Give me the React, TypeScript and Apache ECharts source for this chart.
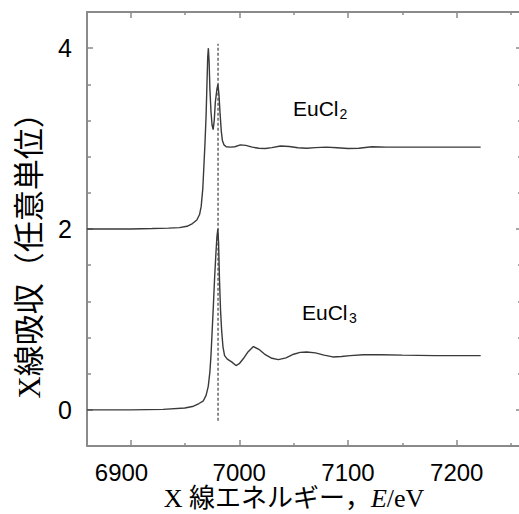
import React, { useEffect, useRef } from "react";
import * as echarts from "echarts";

// ---- data ----
const eucl2E = [6860, 6900, 6920, 6935, 6945, 6952, 6957, 6961, 6963.5, 6965, 6966.5, 6967.5, 6968.5, 6969.5, 6970.3, 6971, 6971.6, 6972.3, 6973, 6974, 6975, 6976, 6977, 6978, 6979.5, 6980.4, 6981.4, 6982.4, 6983.5, 6984.5, 6986, 6988, 6992, 6996, 7001, 7006, 7012, 7018, 7024, 7030, 7038, 7046, 7054, 7062, 7070, 7080, 7090, 7100, 7110, 7122, 7135, 7150, 7180, 7222];
const eucl2V = [2.0, 2.0, 2.005, 2.01, 2.015, 2.03, 2.06, 2.1, 2.16, 2.25, 2.45, 2.7, 2.95, 3.25, 3.6, 3.9, 4.0, 3.85, 3.55, 3.3, 3.15, 3.1, 3.2, 3.4, 3.55, 3.6, 3.48, 3.27, 3.08, 2.98, 2.93, 2.91, 2.905, 2.91, 2.93, 2.925, 2.905, 2.893, 2.89, 2.9, 2.918, 2.912, 2.898, 2.893, 2.9, 2.905, 2.898, 2.89, 2.893, 2.91, 2.905, 2.905, 2.905, 2.905];

const eucl3E = [6860, 6900, 6930, 6950, 6958, 6963, 6967, 6969.5, 6971.5, 6973, 6974, 6975, 6976.2, 6977.3, 6978.5, 6979.5, 6980.3, 6981, 6981.8, 6982.8, 6983.8, 6985, 6986.5, 6989, 6993, 6997, 7000, 7004, 7008, 7013, 7018, 7024, 7030, 7036, 7043, 7050, 7056, 7062, 7070, 7078, 7086, 7094, 7102, 7114, 7130, 7150, 7180, 7222];
const eucl3V = [0.0, 0.0, 0.005, 0.02, 0.04, 0.07, 0.1, 0.16, 0.26, 0.42, 0.6, 0.85, 1.15, 1.45, 1.72, 1.92, 2.0, 1.85, 1.45, 1.1, 0.88, 0.7, 0.6, 0.56, 0.53, 0.49, 0.51, 0.57, 0.64, 0.7, 0.67, 0.61, 0.57, 0.555, 0.575, 0.615, 0.635, 0.64, 0.63, 0.605, 0.585, 0.59, 0.6, 0.61, 0.61, 0.605, 0.6, 0.6];

const refLineE = [6980.5, 6980.5];
const refLineV = [-0.12, 4.05];

const xTickLabels = [6900, 7000, 7100, 7200];
const yTickLabels = [0, 2, 4];

const seriesNames = ["EuCl", "EuCl"];
const seriesSubs = ["2", "3"];
const xTitle = ["X 線エネルギー，", "E", "/eV"];
const yTitle = "X線吸収（任意単位）";

// ---- layout ----
const W = 519;
const H = 514;
const GL = 87;
const GT = 12;
const GR = -3;
const GB = 68;
const X_MIN = 6860;
const X_MAX = 7260;
const Y_MIN = -0.4;
const Y_MAX = 4.4;
const plotW = W - GL - GR;
const plotH = H - GT - GB;
const px = (e: number) => GL + ((e - X_MIN) / (X_MAX - X_MIN)) * plotW;
const py = (v: number) => GT + ((Y_MAX - v) / (Y_MAX - Y_MIN)) * plotH;

const zip = (a: number[], b: number[]) => a.map((x, i) => [x, b[i]]);

const FRAME = "#8a8a8a";
const CURVE = "#3a3a3a";

export default function App() {
  const ref = useRef<HTMLDivElement>(null);
  useEffect(() => {
    if (!ref.current) return;
    const chart = echarts.init(ref.current, null, { renderer: "svg" });
    const hiddenAxis = (gridIndex: number) => ({
      gridIndex,
      type: "value",
      show: false,
      min: 0,
      max: 1,
    });
    const frameAxis = (pos: string, min: number, max: number) => ({
      gridIndex: 0,
      type: "value",
      position: pos,
      min,
      max,
      axisLine: { show: true, onZero: false, lineStyle: { color: FRAME, width: 2 } },
      axisTick: { show: false },
      axisLabel: { show: false },
      splitLine: { show: false },
    });
    const tickStyle = { color: FRAME, width: 1.5 };
    const xTickAxis = (pos: string, labels: boolean) => ({
      gridIndex: 1,
      type: "value",
      position: pos,
      min: 6900,
      max: 7300,
      interval: 100,
      axisLine: { show: false, onZero: false },
      axisTick: { show: true, inside: true, length: 6, lineStyle: tickStyle },
      minorTick: { show: true, splitNumber: 2, length: 3, lineStyle: tickStyle },
      splitLine: { show: false },
      minorSplitLine: { show: false },
      axisLabel: {
        show: labels,
        margin: 14,
        color: "#000",
        fontFamily: "Liberation Sans",
        fontSize: 24,
        formatter: (v: number) => {
          if (!xTickLabels.includes(v)) return "";
          return v === xTickLabels[0] ? "{s|" + v + "}" : String(v);
        },
        rich: {
          s: { padding: [0, 18, 0, 0], fontFamily: "Liberation Sans", fontSize: 24, color: "#000" },
        },
      },
    });
    const yTickAxis = (pos: string, labels: boolean) => ({
      gridIndex: 2,
      type: "value",
      position: pos,
      min: 0,
      max: 4,
      interval: 2,
      axisLine: { show: false, onZero: false },
      axisTick: { show: true, inside: true, length: 6, lineStyle: tickStyle },
      minorTick: { show: true, splitNumber: 5, length: 4, lineStyle: tickStyle },
      splitLine: { show: false },
      minorSplitLine: { show: false },
      axisLabel: {
        show: labels,
        margin: 15,
        color: "#000",
        fontFamily: "Liberation Sans",
        fontSize: 25,
        formatter: (v: number) => (yTickLabels.includes(v) ? String(v) : ""),
      },
    });

    const option: any = {
      animation: false,
      backgroundColor: "#fff",
      grid: [
        { left: GL, top: GT, right: GR, bottom: GB, outerBoundsMode: "none" },
        { left: px(6900), top: GT, right: W - px(7300), bottom: GB, outerBoundsMode: "none" },
        { left: GL, top: py(4), right: GR, bottom: H - py(0), outerBoundsMode: "none" },
      ],
      xAxis: [
        frameAxis("bottom", X_MIN, X_MAX),
        frameAxis("top", X_MIN, X_MAX),
        xTickAxis("bottom", true),
        xTickAxis("top", false),
        hiddenAxis(2),
      ],
      yAxis: [
        frameAxis("left", Y_MIN, Y_MAX),
        frameAxis("right", Y_MIN, Y_MAX),
        hiddenAxis(1),
        yTickAxis("left", true),
        yTickAxis("right", false),
      ],
      series: [
        {
          name: "EuCl2",
          type: "line",
          xAxisIndex: 0,
          yAxisIndex: 0,
          data: zip(eucl2E, eucl2V),
          showSymbol: false,
          symbol: "none",
          lineStyle: { color: CURVE, width: 1.4 },
          z: 3,
        },
        {
          name: "EuCl3",
          type: "line",
          xAxisIndex: 0,
          yAxisIndex: 0,
          data: zip(eucl3E, eucl3V),
          showSymbol: false,
          symbol: "none",
          lineStyle: { color: CURVE, width: 1.4 },
          z: 3,
        },
        {
          name: "ref",
          type: "line",
          xAxisIndex: 0,
          yAxisIndex: 0,
          data: zip(refLineE, refLineV),
          showSymbol: false,
          symbol: "none",
          lineStyle: { color: "#666", width: 1.5, type: [3, 2] },
          z: 2,
        },
      ],
      graphic: [
        {
          type: "text",
          x: 293,
          y: 108,
          style: { text: seriesNames[0], font: "21px 'Liberation Sans'", fill: "#000", align: "left", verticalAlign: "middle" },
        },
        {
          type: "text",
          x: 339.5,
          y: 114,
          style: { text: seriesSubs[0], font: "14px 'Liberation Sans'", fill: "#000", align: "left", verticalAlign: "middle" },
        },
        {
          type: "text",
          x: 302,
          y: 312,
          style: { text: seriesNames[1], font: "21px 'Liberation Sans'", fill: "#000", align: "left", verticalAlign: "middle" },
        },
        {
          type: "text",
          x: 349,
          y: 318,
          style: { text: seriesSubs[1], font: "14px 'Liberation Sans'", fill: "#000", align: "left", verticalAlign: "middle" },
        },
        {
          type: "text",
          x: 294,
          y: 498,
          style: {
            text: "{a|" + xTitle[0] + "}{b|" + xTitle[1] + "}{a|" + xTitle[2] + "}",
            align: "center",
            verticalAlign: "middle",
            fill: "#000",
            rich: {
              a: { fontFamily: "'Liberation Serif', 'Noto Sans CJK JP'", fontSize: 26, fill: "#000", color: "#000" },
              b: { fontFamily: "'Liberation Serif'", fontStyle: "italic", fontSize: 26, fill: "#000", color: "#000" },
            },
          },
        },
        {
          type: "text",
          x: 29,
          y: 248,
          rotation: Math.PI / 2,
          style: {
            text: yTitle,
            font: "31px 'Liberation Serif', 'Noto Sans CJK JP'",
            fill: "#000",
            align: "center",
            verticalAlign: "middle",
          },
        },
      ],
    };
    chart.setOption(option);
    return () => chart.dispose();
  }, []);
  return (
    <div
      ref={ref}
      style={{ position: "fixed", left: 0, top: 0, width: W, height: H, background: "#fff" }}
    />
  );
}
